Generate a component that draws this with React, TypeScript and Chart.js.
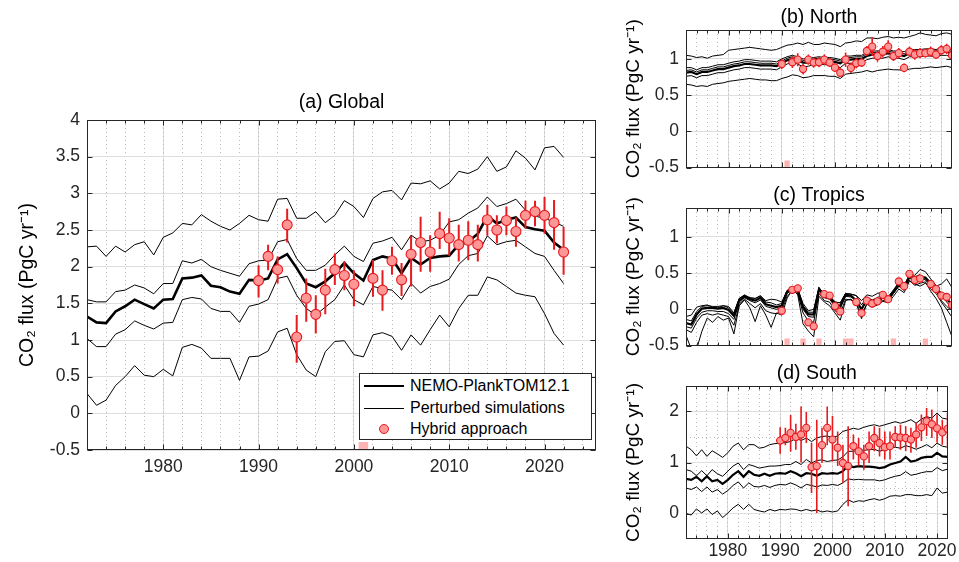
import React, { useEffect, useRef } from 'react';
import { Chart, registerables } from 'chart.js';

Chart.register(...registerables);

const FONT = '"Liberation Sans", Arial, Helvetica, sans-serif';
Chart.defaults.font.family = FONT;

const AXIS_COLOR = '#262626';
const GRID_MAJOR = 'rgb(222,222,222)';
const GRID_MINOR = 'rgb(185,185,185)';
const RED = 'rgb(232,26,30)';
const PINK_FACE = 'rgb(255,150,150)';
const GAP_PINK = 'rgb(255,178,178)';
const Y_LABEL = 'CO\u2082 flux (PgC yr\u207B\u00B9)';

// ---------- categories / ticks ----------
const YEARS = [
  1972, 1973, 1974, 1975, 1976, 1977, 1978, 1979, 1980, 1981,
  1982, 1983, 1984, 1985, 1986, 1987, 1988, 1989, 1990, 1991,
  1992, 1993, 1994, 1995, 1996, 1997, 1998, 1999, 2000, 2001,
  2002, 2003, 2004, 2005, 2006, 2007, 2008, 2009, 2010, 2011,
  2012, 2013, 2014, 2015, 2016, 2017, 2018, 2019, 2020, 2021,
  2022,
];
const HYBRID_YEARS = [
  1990, 1991, 1992, 1993, 1994, 1995, 1996, 1997, 1998, 1999,
  2000, 2001, 2002, 2003, 2004, 2005, 2006, 2007, 2008, 2009,
  2010, 2011, 2012, 2013, 2014, 2015, 2016, 2017, 2018, 2019,
  2020, 2021, 2022,
];
const X_MAJOR_TICKS = [1980, 1990, 2000, 2010, 2020];
const X_MINOR_TICKS = [
  1974, 1976, 1978, 1980, 1982, 1984, 1986, 1988, 1990, 1992, 1994, 1996, 1998,
  2000, 2002, 2004, 2006, 2008, 2010, 2012, 2014, 2016, 2018, 2020, 2022, 2024,
];
const Y_TICKS_GLOBAL = [-0.5, 0, 0.5, 1, 1.5, 2, 2.5, 3, 3.5, 4];
const Y_TICKS_NT = [-0.5, 0, 0.5, 1];
const Y_TICKS_SOUTH = [0, 1, 2];
const Y_MINOR_SOUTH = [0.5, 1.5];

// ---------- (a) Global ----------
const globalBold = [
  1.32, 1.24, 1.23, 1.39, 1.46, 1.55, 1.49, 1.43, 1.55, 1.56,
  1.84, 1.85, 1.88, 1.74, 1.72, 1.66, 1.63, 1.82, 1.81, 1.84,
  2.10, 2.17, 1.98, 1.77, 1.72, 1.80, 1.91, 2.05, 1.91, 1.81,
  2.09, 2.14, 2.11, 1.91, 2.12, 2.03, 2.12, 2.14, 2.15, 2.30,
  2.34, 2.45, 2.69, 2.59, 2.64, 2.67, 2.54, 2.51, 2.49, 2.33,
  2.23,
];
const globalTop = [
  2.27, 2.28, 2.14, 2.28, 2.20, 2.30, 2.34, 2.16, 2.40, 2.46,
  2.59, 2.57, 2.71, 2.62, 2.55, 2.50, 2.59, 2.70, 2.64, 2.62,
  2.92, 2.93, 2.66, 2.66, 2.75, 2.60, 2.70, 2.90, 2.82, 2.67,
  2.93, 3.02, 3.04, 2.91, 3.14, 3.13, 3.17, 3.06, 3.14, 3.30,
  3.27, 3.33, 3.50, 3.30, 3.36, 3.58, 3.48, 3.32, 3.62, 3.64,
  3.49,
];
const globalUpper = [
  1.55, 1.52, 1.52, 1.66, 1.68, 1.75, 1.71, 1.63, 1.77, 1.77,
  2.08, 2.05, 2.10, 2.00, 1.95, 1.91, 1.87, 2.04, 2.08, 2.09,
  2.34, 2.37, 2.11, 1.95, 1.95, 2.02, 2.16, 2.28, 2.14, 2.07,
  2.32, 2.35, 2.40, 2.23, 2.43, 2.34, 2.36, 2.43, 2.61, 2.64,
  2.73, 2.80, 2.95, 2.82, 2.86, 2.92, 2.77, 2.69, 2.66, 2.61,
  2.55,
];
const globalLower = [
  1.02, 0.91, 0.91, 1.08, 1.14, 1.26, 1.20, 1.15, 1.23, 1.24,
  1.55, 1.58, 1.56, 1.43, 1.39, 1.39, 1.24, 1.46, 1.49, 1.55,
  1.84, 1.87, 1.61, 1.43, 1.34, 1.45, 1.55, 1.75, 1.55, 1.48,
  1.73, 1.70, 1.68, 1.55, 1.77, 1.64, 1.73, 1.77, 1.83, 2.03,
  2.15, 2.18, 2.42, 2.30, 2.34, 2.36, 2.27, 2.18, 2.14, 1.95,
  1.77,
];
const globalBottom = [
  0.27, 0.11, 0.18, 0.38, 0.50, 0.65, 0.52, 0.50, 0.60, 0.51,
  0.90, 0.94, 0.89, 0.75, 0.75, 0.75, 0.45, 0.77, 0.78, 0.85,
  1.11, 1.16, 0.80, 0.59, 0.50, 0.84, 0.98, 0.99, 0.80, 0.77,
  1.07, 1.10, 1.05, 0.86, 1.07, 0.93, 1.14, 1.34, 1.18, 1.43,
  1.61, 1.61, 1.86, 1.82, 1.73, 1.64, 1.61, 1.59, 1.36, 1.09,
  0.93,
];
const globalHybrid = [
  1.81, 2.14, 1.96, 2.57, 1.04, 1.57, 1.35, 1.68, 1.96, 1.88,
  1.76, null, 1.84, 1.68, 2.08, 1.82, 2.17, 2.33, 2.20, 2.45,
  2.39, 2.30, 2.36, 2.30, 2.64, 2.50, 2.63, 2.48, 2.70, 2.75,
  2.70, 2.60, 2.20,
];
const globalHybridLow = [
  1.58, 1.95, 1.77, 2.33, 0.69, 1.25, 1.09, 1.35, 1.75, 1.68,
  1.46, null, 1.59, 1.40, 1.89, 1.60, 1.73, 1.93, 1.93, 2.24,
  2.15, 2.07, 2.09, 2.07, 2.42, 2.32, 2.43, 2.27, 2.52, 2.55,
  2.45, 2.23, 1.89,
];
const globalHybridHigh = [
  2.02, 2.30, 2.14, 2.79, 1.34, 1.84, 1.61, 1.97, 2.18, 2.07,
  1.95, null, 2.09, 1.95, 2.27, 2.05, 2.42, 2.68, 2.43, 2.75,
  2.66, 2.57, 2.62, 2.57, 2.84, 2.70, 2.82, 2.67, 2.90, 2.90,
  2.95, 2.91, 2.54,
];
const globalGapYears = [2001];

// ---------- (b) North ----------
const northBold = [
  0.81, 0.82, 0.79, 0.82, 0.82, 0.84, 0.86, 0.86, 0.88, 0.90,
  0.91, 0.93, 0.93, 0.92, 0.91, 0.91, 0.91, 0.90, 0.94, 0.98,
  1.00, 0.98, 0.95, 0.95, 0.97, 0.98, 0.97, 0.97, 0.96, 0.94,
  0.99, 0.99, 1.00, 1.00, 1.04, 1.06, 1.06, 1.06, 1.08, 1.06,
  1.06, 1.04, 1.08, 1.08, 1.08, 1.09, 1.09, 1.08, 1.10, 1.10,
  1.07,
];
const northTop = [
  1.05, 1.04, 1.02, 1.03, 1.01, 1.04, 1.05, 1.06, 1.12, 1.13,
  1.14, 1.15, 1.16, 1.15, 1.14, 1.13, 1.12, 1.13, 1.16, 1.19,
  1.20, 1.22, 1.20, 1.23, 1.20, 1.20, 1.22, 1.21, 1.20, 1.17,
  1.22, 1.23, 1.25, 1.24, 1.29, 1.29, 1.28, 1.30, 1.31, 1.29,
  1.30, 1.29, 1.31, 1.33, 1.36, 1.34, 1.33, 1.32, 1.35, 1.36,
  1.34,
];
const northUpper1 = [
  0.88, 0.88, 0.85, 0.88, 0.88, 0.90, 0.92, 0.92, 0.94, 0.96,
  0.97, 0.99, 0.99, 0.98, 0.97, 0.97, 0.97, 0.96, 1.00, 1.03,
  1.05, 1.03, 1.00, 1.01, 1.02, 1.03, 1.02, 1.02, 1.01, 0.99,
  1.04, 1.04, 1.05, 1.05, 1.09, 1.11, 1.11, 1.11, 1.13, 1.11,
  1.11, 1.10, 1.13, 1.13, 1.13, 1.14, 1.14, 1.13, 1.15, 1.15,
  1.12,
];
const northUpper2 = [
  0.84, 0.85, 0.82, 0.85, 0.85, 0.87, 0.89, 0.89, 0.91, 0.93,
  0.94, 0.96, 0.96, 0.95, 0.94, 0.94, 0.94, 0.93, 0.97, 1.01,
  1.03, 1.01, 0.98, 0.98, 1.00, 1.01, 1.00, 1.00, 0.99, 0.97,
  1.02, 1.02, 1.03, 1.03, 1.07, 1.09, 1.09, 1.09, 1.11, 1.09,
  1.09, 1.07, 1.11, 1.11, 1.11, 1.12, 1.12, 1.11, 1.13, 1.13,
  1.10,
];
const northLower = [
  0.76, 0.77, 0.74, 0.77, 0.77, 0.79, 0.81, 0.81, 0.83, 0.85,
  0.86, 0.88, 0.88, 0.87, 0.86, 0.86, 0.86, 0.85, 0.89, 0.93,
  0.95, 0.93, 0.89, 0.90, 0.92, 0.93, 0.92, 0.92, 0.91, 0.88,
  0.94, 0.94, 0.95, 0.95, 0.99, 1.01, 1.01, 1.01, 1.03, 1.01,
  1.01, 0.99, 1.03, 1.03, 1.03, 1.04, 1.04, 1.03, 1.05, 1.05,
  1.02,
];
const northBottom = [
  0.65, 0.64, 0.62, 0.63, 0.62, 0.65, 0.66, 0.67, 0.69, 0.70,
  0.71, 0.72, 0.73, 0.72, 0.71, 0.71, 0.70, 0.70, 0.73, 0.75,
  0.78, 0.77, 0.74, 0.75, 0.77, 0.77, 0.77, 0.76, 0.76, 0.73,
  0.79, 0.80, 0.81, 0.82, 0.84, 0.82, 0.84, 0.85, 0.86, 0.85,
  0.85, 0.84, 0.86, 0.87, 0.87, 0.88, 0.89, 0.88, 0.89, 0.90,
  0.88,
];
const northHybrid = [
  0.93, null, 0.955, 0.99, 0.86, 0.99, 0.95, 0.955, 0.99, 0.95,
  0.88, 0.81, 0.99, 0.876, 0.94, 0.95, 1.11, 1.17, 1.04, 1.10,
  1.17, 1.04, 1.08, 0.876, 1.10, 1.06, 1.08, 1.08, 1.10, 1.06,
  1.12, 1.14, 1.05,
];
const northHybridLow = [
  0.86, null, 0.875, 0.90, 0.79, 0.92, 0.88, 0.885, 0.92, 0.89,
  0.82, 0.75, 0.89, 0.806, 0.87, 0.89, 1.04, 1.04, 0.96, 1.02,
  1.08, 0.97, 1.01, 0.816, 1.03, 0.99, 1.01, 1.02, 1.03, 1.00,
  1.05, 1.07, 0.97,
];
const northHybridHigh = [
  1.00, null, 1.035, 1.08, 0.93, 1.06, 1.02, 1.025, 1.06, 1.01,
  0.94, 0.87, 1.09, 0.946, 1.01, 1.01, 1.18, 1.30, 1.12, 1.18,
  1.26, 1.11, 1.15, 0.936, 1.17, 1.13, 1.15, 1.14, 1.17, 1.12,
  1.19, 1.21, 1.13,
];
const northGapYears = [1991];

// ---------- (c) Tropics ----------
const tropicsBold = [
  -0.19, -0.21, -0.07, 0.01, 0.02, 0.02, 0.01, 0.02, -0.01, -0.09,
  0.12, 0.18, 0.14, 0.12, 0.16, 0.07, 0.05, 0.03, 0.05, 0.24,
  0.29, 0.26, 0.03, -0.07, -0.07, 0.28, 0.18, 0.16, 0.07, 0.05,
  0.20, 0.19, 0.12, 0.00, 0.14, 0.10, 0.12, 0.18, 0.14, 0.24,
  0.34, 0.30, 0.45, 0.43, 0.45, 0.44, 0.36, 0.30, 0.20, 0.14,
  0.07,
];
const tropicsA = [
  -0.10, -0.08, 0.03, 0.05, 0.06, 0.03, 0.02, 0.05, 0.04, -0.05,
  0.15, 0.19, 0.16, 0.15, 0.18, 0.12, 0.14, 0.13, 0.10, 0.26,
  0.30, 0.28, 0.08, -0.02, 0.00, 0.30, 0.20, 0.18, 0.10, 0.09,
  0.22, 0.21, 0.19, 0.12, 0.20, 0.18, 0.22, 0.24, 0.17, 0.26,
  0.36, 0.33, 0.47, 0.45, 0.48, 0.40, 0.34, 0.32, 0.35, 0.42,
  0.30,
];
const tropicsB = [
  -0.36, -0.55, -0.55, -0.30, -0.12, -0.18, -0.10, -0.15, -0.12, -0.34,
  0.05, 0.13, 0.02, -0.17, 0.05, -0.08, -0.25, -0.05, -0.08, 0.15,
  0.28, 0.20, -0.20, -0.30, -0.38, 0.18, 0.10, 0.05, -0.05, -0.15,
  0.12, 0.14, 0.08, -0.13, 0.08, 0.05, 0.10, 0.12, 0.12, 0.22,
  0.32, 0.26, 0.40, 0.33, 0.36, 0.38, 0.25, 0.15, 0.02, -0.18,
  -0.38,
];
const tropicsC = [
  -0.24, -0.26, -0.12, -0.04, -0.02, -0.02, -0.03, -0.03, -0.06, -0.14,
  0.08, 0.16, 0.12, 0.09, 0.13, 0.04, 0.02, 0.00, 0.02, 0.22,
  0.27, 0.24, 0.00, -0.10, -0.11, 0.26, 0.16, 0.14, 0.04, 0.01,
  0.18, 0.17, 0.13, 0.00, 0.11, 0.07, 0.09, 0.15, 0.12, 0.22,
  0.32, 0.28, 0.43, 0.40, 0.42, 0.42, 0.33, 0.26, 0.12, 0.04,
  -0.02,
];
const tropicsD = [
  -0.14, -0.16, -0.03, 0.04, 0.05, 0.04, 0.04, 0.05, 0.02, -0.06,
  0.15, 0.20, 0.16, 0.15, 0.19, 0.10, 0.09, 0.06, 0.08, 0.26,
  0.30, 0.28, 0.05, -0.04, -0.04, 0.30, 0.20, 0.19, 0.10, 0.09,
  0.22, 0.21, 0.19, 0.06, 0.17, 0.13, 0.16, 0.21, 0.17, 0.27,
  0.37, 0.33, 0.48, 0.47, 0.55, 0.52, 0.42, 0.33, 0.22, 0.10,
  0.02,
];
const tropicsE = [
  -0.28, -0.32, -0.18, -0.08, -0.06, -0.08, -0.06, -0.08, -0.10, -0.22,
  0.05, 0.14, 0.08, 0.02, 0.08, -0.02, -0.05, -0.06, -0.02, 0.18,
  0.25, 0.22, -0.05, -0.16, -0.18, 0.22, 0.12, 0.10, -0.02, -0.06,
  0.14, 0.13, 0.08, -0.06, 0.07, 0.03, 0.06, 0.11, 0.09, 0.18,
  0.28, 0.23, 0.39, 0.35, 0.32, 0.36, 0.28, 0.22, 0.10, 0.00,
  -0.11,
];
const tropicsHybrid = [
  -0.02, null, 0.27, 0.29, null, -0.18, -0.235, null, 0.21, 0.19,
  0.045, -0.03, null, null, 0.10, -0.05, 0.12, 0.08, 0.11, 0.20,
  0.14, null, 0.385, 0.32, 0.49, 0.405, 0.425, null, 0.35, 0.28,
  0.19, 0.17, 0.06,
];
const tropicsHybridLow = [
  -0.04, null, 0.25, 0.27, null, -0.20, -0.255, null, 0.19, 0.17,
  0.025, -0.05, null, null, 0.08, -0.07, 0.10, 0.06, 0.09, 0.18,
  0.12, null, 0.365, 0.30, 0.47, 0.385, 0.405, null, 0.33, 0.26,
  0.17, 0.15, 0.04,
];
const tropicsHybridHigh = [
  0.00, null, 0.29, 0.31, null, -0.16, -0.215, null, 0.23, 0.21,
  0.065, -0.01, null, null, 0.12, -0.03, 0.14, 0.10, 0.13, 0.22,
  0.16, null, 0.405, 0.34, 0.51, 0.425, 0.445, null, 0.37, 0.30,
  0.21, 0.19, 0.08,
];
const tropicsGapYears = [1991, 1994, 1997, 2002, 2003, 2011, 2017];

// ---------- (d) South ----------
const southBold = [
  0.68, 0.66, 0.72, 0.63, 0.73, 0.63, 0.66, 0.58, 0.66, 0.76,
  0.83, 0.72, 0.83, 0.76, 0.74, 0.78, 0.74, 0.78, 0.79, 0.78,
  0.83, 0.79, 0.73, 0.79, 0.78, 0.74, 0.79, 0.78, 0.79, 0.78,
  0.83, 0.94, 0.91, 0.93, 0.92, 0.92, 0.91, 0.89, 0.91, 0.96,
  0.99, 1.02, 1.11, 1.02, 1.04, 1.09, 1.11, 1.11, 1.19, 1.12,
  1.11,
];
const southTop = [
  1.32, 1.25, 1.13, 1.25, 1.12, 1.23, 1.17, 1.10, 1.19, 1.32,
  1.38, 1.25, 1.35, 1.35, 1.28, 1.30, 1.35, 1.37, 1.38, 1.39,
  1.41, 1.48, 1.43, 1.48, 1.41, 1.48, 1.51, 1.52, 1.49, 1.52,
  1.61, 1.64, 1.67, 1.65, 1.69, 1.72, 1.74, 1.71, 1.74, 1.77,
  1.80, 1.77, 1.80, 1.84, 1.77, 1.85, 1.90, 1.87, 1.97, 1.87,
  1.85,
];
const southUpper = [
  0.86, 0.83, 0.74, 0.84, 0.74, 0.86, 0.78, 0.73, 0.83, 0.93,
  0.99, 0.86, 0.96, 0.93, 0.89, 0.91, 0.93, 0.93, 0.94, 0.96,
  0.96, 1.02, 0.96, 1.06, 0.99, 1.04, 1.05, 1.02, 1.04, 1.05,
  1.11, 1.22, 1.22, 1.25, 1.24, 1.25, 1.26, 1.22, 1.25, 1.28,
  1.30, 1.28, 1.33, 1.30, 1.26, 1.30, 1.35, 1.29, 1.38, 1.32,
  1.30,
];
const southLower = [
  0.50, 0.47, 0.52, 0.43, 0.52, 0.42, 0.47, 0.38, 0.45, 0.55,
  0.62, 0.50, 0.60, 0.53, 0.52, 0.55, 0.51, 0.55, 0.57, 0.56,
  0.60, 0.56, 0.50, 0.57, 0.55, 0.52, 0.56, 0.55, 0.57, 0.55,
  0.60, 0.68, 0.66, 0.67, 0.66, 0.66, 0.66, 0.64, 0.66, 0.70,
  0.73, 0.75, 0.82, 0.75, 0.77, 0.80, 0.82, 0.82, 0.90, 0.84,
  0.87,
];
const southBottom = [
  0.00, -0.03, 0.09, 0.01, 0.09, -0.02, 0.05, -0.08, 0.01, 0.11,
  0.18, 0.08, 0.18, 0.08, 0.05, 0.03, 0.08, 0.05, 0.08, 0.07,
  0.09, 0.08, 0.05, 0.08, 0.05, 0.07, 0.03, 0.05, 0.03, 0.05,
  0.18, 0.27, 0.22, 0.25, 0.24, 0.27, 0.29, 0.26, 0.29, 0.34,
  0.35, 0.34, 0.37, 0.37, 0.35, 0.35, 0.37, 0.35, 0.50, 0.40,
  0.42,
];
const southHybrid = [
  1.43, 1.48, 1.58, 1.50, 1.55, 1.68, 0.91, 0.93, 1.34, 1.68,
  1.45, 1.29, 0.99, 0.93, 1.32, 1.22, 1.12, 1.32, 1.48, 1.38,
  1.30, 1.32, 1.50, 1.49, 1.48, 1.45, 1.55, 1.69, 1.81, 1.75,
  1.67, 1.59, 1.66,
];
const southHybridLow = [
  1.17, 1.34, 1.21, 1.25, 1.00, 1.38, 0.40, 0.01, 0.99, 1.34,
  1.02, 0.93, 0.60, 0.14, 1.06, 0.93, 0.86, 0.99, 1.22, 1.12,
  1.06, 1.06, 1.29, 1.25, 1.22, 1.19, 1.29, 1.42, 1.52, 1.48,
  1.39, 1.35, 1.32,
];
const southHybridHigh = [
  1.69, 1.68, 1.93, 1.76, 2.10, 1.99, 1.38, 1.84, 1.68, 2.10,
  1.91, 1.61, 1.35, 1.71, 1.55, 1.48, 1.35, 1.61, 1.71, 1.68,
  1.61, 1.61, 1.71, 1.74, 1.71, 1.68, 1.78, 1.94, 2.07, 2.04,
  1.94, 1.84, 1.97,
];
const southGapYears: number[] = [];

// ---------- panel layout ----------
const PANELS = [
  {
    key: 'global', title: '(a) Global',
    left: 0, top: 80, w: 610, h: 400,
    pad: { top: 11, right: 14, bottom: 0, left: 0 }, titlePadBottom: 5.6,
    xMax: 2025.4, showX: true, xAxisH: 30, xTickPad: 7,
    yMin: -0.5, yMax: 4, yTicks: Y_TICKS_GLOBAL, yMinor: [] as number[], yAxisW: 87, yTitlePad: 16,
    tickSize: 17.5, titleSize: 19.5, labelSize: 19.5,
    bold: globalBold, thin: [globalTop, globalUpper, globalLower, globalBottom],
    hyb: globalHybrid, lo: globalHybridLow, hi: globalHybridHigh, gaps: globalGapYears,
    pointR: 5, errW: 2, boldW: 2.6, gapH: 8,
  },
  {
    key: 'north', title: '(b) North',
    left: 600, top: 0, w: 359, h: 185,
    pad: { top: 6.3, right: 7, bottom: 2, left: 0 }, titlePadBottom: 0.3,
    xMax: 2022, showX: false, xAxisH: 0, xTickPad: 0,
    yMin: -0.5, yMax: 1.4, yTicks: Y_TICKS_NT, yMinor: [] as number[], yAxisW: 86, yTitlePad: 22,
    tickSize: 17.5, titleSize: 19.5, labelSize: 19,
    bold: northBold, thin: [northTop, northUpper1, northUpper2, northLower, northBottom],
    hyb: northHybrid, lo: northHybridLow, hi: northHybridHigh, gaps: northGapYears,
    pointR: 3.6, errW: 1.6, boldW: 2.2, gapH: 7,
  },
  {
    key: 'tropics', title: '(c) Tropics',
    left: 600, top: 184, w: 359, h: 179,
    pad: { top: 0.3, right: 7, bottom: 2, left: 0 }, titlePadBottom: 0.3,
    xMax: 2022, showX: false, xAxisH: 0, xTickPad: 0,
    yMin: -0.5, yMax: 1.4, yTicks: Y_TICKS_NT, yMinor: [] as number[], yAxisW: 86, yTitlePad: 22,
    tickSize: 17.5, titleSize: 19.5, labelSize: 19,
    bold: tropicsBold, thin: [tropicsA, tropicsB, tropicsC, tropicsD, tropicsE],
    hyb: tropicsHybrid, lo: tropicsHybridLow, hi: tropicsHybridHigh, gaps: tropicsGapYears,
    pointR: 3.6, errW: 1.6, boldW: 2.2, gapH: 7,
  },
  {
    key: 'south', title: '(d) South',
    left: 600, top: 362, w: 359, h: 200,
    pad: { top: 0.3, right: 7, bottom: 0, left: 0 }, titlePadBottom: 0.3,
    xMax: 2022, showX: true, xAxisH: 23, xTickPad: 2,
    yMin: -0.5, yMax: 2.5, yTicks: Y_TICKS_SOUTH, yMinor: Y_MINOR_SOUTH, yAxisW: 86, yTitlePad: 22,
    tickSize: 17.5, titleSize: 19.5, labelSize: 19,
    bold: southBold, thin: [southTop, southUpper, southLower, southBottom],
    hyb: southHybrid, lo: southHybridLow, hi: southHybridHigh, gaps: southGapYears,
    pointR: 3.6, errW: 1.6, boldW: 2.2, gapH: 7,
  },
];

// ---------- plugin: gap markers, box frame, inner tick marks ----------
const decorPlugin = {
  id: 'decor',
  beforeDatasetsDraw(chart: any, _args: any, opts: any) {
    const { ctx, chartArea: a } = chart;
    const x = chart.scales.x;
    ctx.save();
    ctx.fillStyle = GAP_PINK;
    (opts.gaps || []).forEach((yr: number) => {
      const x0 = x.getPixelForValue(yr - 0.5);
      const x1 = x.getPixelForValue(yr + 0.5);
      ctx.fillRect(x0, a.bottom - opts.gapH, x1 - x0, opts.gapH);
    });
    ctx.restore();
  },
  afterDatasetsDraw(chart: any) {
    const { ctx, chartArea: a } = chart;
    const x = chart.scales.x;
    const xm = chart.scales.xMinor;
    const y = chart.scales.y;
    const L = Math.round(a.left) + 0.5;
    const R = Math.round(a.right) - 0.5;
    const T = Math.round(a.top) + 0.5;
    const B = Math.round(a.bottom) - 0.5;
    ctx.save();
    ctx.strokeStyle = AXIS_COLOR;
    ctx.lineWidth = 1;
    ctx.beginPath();
    x.ticks.forEach((t: any) => {
      const px = Math.round(x.getPixelForValue(t.value)) + 0.5;
      ctx.moveTo(px, B); ctx.lineTo(px, B - 5);
      ctx.moveTo(px, T); ctx.lineTo(px, T + 5);
    });
    if (xm) {
      xm.ticks.forEach((t: any) => {
        const px = Math.round(xm.getPixelForValue(t.value)) + 0.5;
        ctx.moveTo(px, B); ctx.lineTo(px, B - 3);
        ctx.moveTo(px, T); ctx.lineTo(px, T + 3);
      });
    }
    y.ticks.forEach((t: any) => {
      const py = Math.round(y.getPixelForValue(t.value)) + 0.5;
      ctx.moveTo(L, py); ctx.lineTo(L + 5, py);
      ctx.moveTo(R, py); ctx.lineTo(R - 5, py);
    });
    ctx.stroke();
    ctx.strokeRect(L, T, R - L, B - T);
    ctx.restore();
  },
};

function makeConfig(c: any) {
  const series = (vals: number[]) => YEARS.map((x, i) => ({ x, y: vals[i] }));
  const pts: any[] = [];
  const err: any[] = [];
  HYBRID_YEARS.forEach((x, i) => {
    if (c.hyb[i] === null) return;
    pts.push({ x, y: c.hyb[i] });
    err.push({ x, y: c.lo[i] }, { x, y: c.hi[i] }, { x, y: null });
  });
  const datasets: any[] = [
    {
      label: 'Hybrid approach', data: pts, showLine: false,
      pointRadius: c.pointR, pointHoverRadius: c.pointR,
      pointBackgroundColor: PINK_FACE, pointBorderColor: RED, pointBorderWidth: 1.1,
      order: 0,
    },
    {
      label: 'Hybrid uncertainty', data: err, borderColor: RED, borderWidth: c.errW,
      pointRadius: 0, spanGaps: false, order: 1,
    },
    {
      label: 'NEMO-PlankTOM12.1', data: series(c.bold), borderColor: '#000',
      borderWidth: c.boldW, pointRadius: 0, order: 2,
    },
  ];
  c.thin.forEach((t: number[], k: number) => {
    datasets.push({
      label: 'Perturbed simulation ' + (k + 1), data: series(t), borderColor: '#000',
      borderWidth: 1, pointRadius: 0, order: 3,
    });
  });

  const scales: any = {
    x: {
      type: 'linear', min: 1972, max: c.xMax,
      afterBuildTicks: (s: any) => { s.ticks = X_MAJOR_TICKS.map((v) => ({ value: v })); },
      ticks: {
        display: c.showX, font: { family: FONT, size: c.tickSize }, color: AXIS_COLOR,
        padding: c.xTickPad, maxRotation: 0, autoSkip: false,
        callback: (v: any) => String(v),
      },
      grid: { color: GRID_MAJOR, lineWidth: 1, drawTicks: false },
      border: { display: false },
      afterFit: (s: any) => { s.height = c.xAxisH; },
    },
    xMinor: {
      type: 'linear', position: 'bottom', min: 1972, max: c.xMax,
      afterBuildTicks: (s: any) => {
        s.ticks = X_MINOR_TICKS.filter((v) => v < c.xMax).map((v) => ({ value: v }));
      },
      ticks: { display: false },
      grid: { color: GRID_MINOR, lineWidth: 1, drawTicks: false },
      border: { display: false, dash: [1, 3] },
      afterFit: (s: any) => { s.height = 0; },
    },
    y: {
      type: 'linear', position: 'left', min: c.yMin, max: c.yMax,
      afterBuildTicks: (s: any) => { s.ticks = c.yTicks.map((v: number) => ({ value: v })); },
      ticks: {
        font: { family: FONT, size: c.tickSize }, color: AXIS_COLOR, padding: 7,
        callback: (v: any) => String(v),
      },
      grid: { color: GRID_MAJOR, lineWidth: 1, drawTicks: false },
      border: { display: false },
      title: {
        display: true, text: Y_LABEL, color: '#000',
        font: { family: FONT, size: c.labelSize },
        padding: { top: c.yTitlePad, bottom: 0 },
      },
      afterFit: (s: any) => { s.width = c.yAxisW; },
    },
  };
  if (c.yMinor.length) {
    scales.yMinor = {
      type: 'linear', position: 'left', min: c.yMin, max: c.yMax,
      afterBuildTicks: (s: any) => { s.ticks = c.yMinor.map((v: number) => ({ value: v })); },
      ticks: { display: false },
      grid: { color: GRID_MINOR, lineWidth: 1, drawTicks: false },
      border: { display: false, dash: [1, 3] },
      afterFit: (s: any) => { s.width = 0; },
    };
  }

  return {
    type: 'line',
    data: { datasets },
    plugins: [decorPlugin],
    options: {
      responsive: false,
      maintainAspectRatio: false,
      animation: false,
      devicePixelRatio: 1,
      events: [],
      layout: { padding: c.pad },
      elements: { line: { tension: 0, borderJoinStyle: 'miter', borderCapStyle: 'butt' } },
      scales,
      plugins: {
        legend: { display: false },
        tooltip: { enabled: false },
        title: {
          display: true, text: c.title, fullSize: false, color: '#000',
          font: { family: FONT, size: c.titleSize, weight: 'normal' },
          padding: { top: 0, bottom: c.titlePadBottom },
        },
        decor: { gaps: c.gaps, gapH: c.gapH },
      },
    },
  };
}

function Panel({ c }: { c: any }) {
  const ref = useRef<HTMLCanvasElement | null>(null);
  useEffect(() => {
    if (!ref.current) return;
    const chart = new Chart(ref.current, makeConfig(c) as any);
    return () => chart.destroy();
  }, [c]);
  return (
    <canvas
      ref={ref}
      width={c.w}
      height={c.h}
      style={{ position: 'absolute', left: c.left, top: c.top, width: c.w, height: c.h }}
    />
  );
}

function Legend() {
  const row = (top: number) => ({
    position: 'absolute' as const, left: 0, top: top - 10, width: '100%', height: 20,
  });
  const text = {
    position: 'absolute' as const, left: 50, top: 0, lineHeight: '20px', whiteSpace: 'nowrap' as const,
  };
  return (
    <div
      style={{
        position: 'absolute', left: 359, top: 373, width: 233, height: 67,
        border: '1px solid #262626', background: '#fff', boxSizing: 'border-box',
        fontFamily: FONT, fontSize: 16, color: '#000',
      }}
    >
      <div style={row(12)}>
        <div style={{ position: 'absolute', left: 4, top: 8.7, width: 40, height: 2.6, background: '#000' }} />
        <span style={text}>NEMO-PlankTOM12.1</span>
      </div>
      <div style={row(34)}>
        <div style={{ position: 'absolute', left: 4, top: 9.5, width: 40, height: 1, background: '#000' }} />
        <span style={text}>Perturbed simulations</span>
      </div>
      <div style={row(55)}>
        <div
          style={{
            position: 'absolute', left: 19, top: 5, width: 10, height: 10, boxSizing: 'border-box',
            borderRadius: '50%', border: `1.1px solid ${RED}`, background: PINK_FACE,
          }}
        />
        <span style={text}>Hybrid approach</span>
      </div>
    </div>
  );
}

export default function App() {
  return (
    <div
      style={{
        position: 'fixed', left: 0, top: 0, width: 959, height: 562,
        background: '#fff', overflow: 'hidden',
      }}
    >
      {PANELS.map((p) => (
        <Panel key={p.key} c={p} />
      ))}
      <Legend />
    </div>
  );
}
